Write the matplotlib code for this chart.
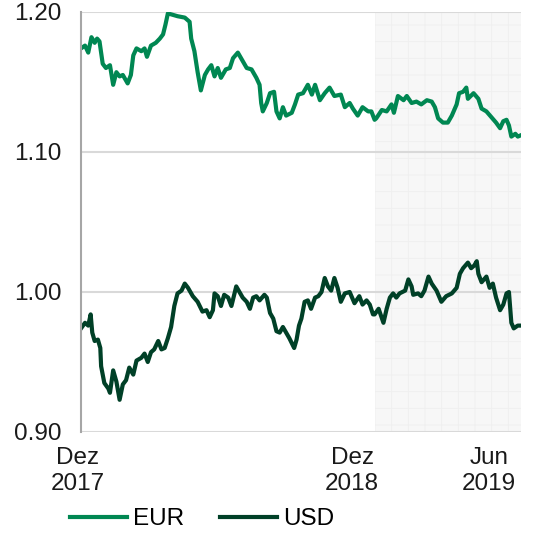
import matplotlib
matplotlib.use("Agg")
import matplotlib.pyplot as plt
import pandas as pd

plt.rcParams["font.family"] = ["Liberation Sans", "DejaVu Sans"]
plt.rcParams["hatch.linewidth"] = 0.6

# ------------------------------------------------------------
# Data, days since 1 Dec 2017
# ------------------------------------------------------------
start = pd.Timestamp("2017-12-01")
end = pd.Timestamp("2019-06-01")
shade_start = pd.Timestamp("2018-12-01")

eur_days = [0, 5, 9, 13, 17, 20, 23, 27, 31, 36,
            40, 44, 48, 52, 58, 62, 65, 69, 75, 79,
            82, 87, 93, 98, 102, 105, 108, 114, 120, 129,
            135, 137, 141, 145, 149, 154, 158, 162, 166, 170,
            174, 180, 185, 189, 195, 200, 206, 212, 218, 222,
            224, 226, 231, 235, 240, 243, 247, 251, 255, 262,
            266, 270, 276, 282, 287, 291, 297, 303, 309, 315,
            323, 328, 334, 338, 344, 350, 357, 361, 365, 367,
            374, 380, 386, 389, 394, 401, 405, 411, 417, 423,
            430, 436, 440, 444, 450, 456, 461, 467, 470, 475,
            479, 481, 488, 494, 498, 504, 510, 516, 521, 525,
            529, 532, 535, 540, 543, 547]
eur_vals = [1.174, 1.176, 1.171, 1.182, 1.178, 1.181, 1.179, 1.163, 1.160, 1.162,
            1.148, 1.157, 1.154, 1.155, 1.149, 1.155, 1.169, 1.174, 1.172, 1.174,
            1.168, 1.176, 1.178, 1.181, 1.184, 1.191, 1.199, 1.198, 1.197, 1.196,
            1.193, 1.181, 1.172, 1.157, 1.144, 1.155, 1.159, 1.162, 1.154, 1.160,
            1.153, 1.159, 1.160, 1.167, 1.171, 1.166, 1.160, 1.159, 1.153, 1.148,
            1.135, 1.129, 1.135, 1.142, 1.143, 1.129, 1.124, 1.132, 1.126, 1.128,
            1.134, 1.141, 1.142, 1.148, 1.141, 1.148, 1.137, 1.142, 1.146, 1.140,
            1.141, 1.132, 1.135, 1.131, 1.126, 1.132, 1.129, 1.129, 1.123, 1.124,
            1.130, 1.129, 1.134, 1.128, 1.140, 1.137, 1.140, 1.135, 1.136, 1.134,
            1.137, 1.136, 1.132, 1.124, 1.121, 1.121, 1.126, 1.134, 1.142, 1.143,
            1.146, 1.138, 1.142, 1.138, 1.131, 1.129, 1.125, 1.121, 1.117, 1.122,
            1.123, 1.119, 1.111, 1.113, 1.111, 1.112]

usd_days = [0, 5, 9, 12, 14, 17, 21, 24, 25, 29,
            34, 36, 40, 44, 48, 52, 56, 60, 65, 69,
            75, 79, 83, 87, 91, 96, 100, 104, 108, 112,
            116, 120, 125, 129, 133, 139, 145, 151, 156, 160,
            164, 166, 170, 174, 178, 183, 187, 193, 197, 201,
            206, 210, 214, 218, 222, 228, 231, 235, 239, 243,
            247, 251, 255, 259, 265, 268, 271, 274, 278, 282,
            286, 291, 295, 299, 303, 307, 311, 315, 319, 323,
            328, 334, 340, 346, 350, 355, 359, 363, 365, 370,
            376, 380, 384, 388, 392, 396, 403, 407, 411, 413,
            419, 423, 427, 432, 436, 442, 448, 454, 461, 467,
            471, 475, 481, 485, 489, 492, 494, 498, 504, 508,
            512, 516, 521, 525, 529, 532, 535, 538, 543, 547]
usd_vals = [0.974, 0.978, 0.976, 0.984, 0.971, 0.965, 0.966, 0.960, 0.947, 0.935,
            0.931, 0.928, 0.944, 0.936, 0.923, 0.934, 0.937, 0.946, 0.941, 0.951,
            0.953, 0.956, 0.950, 0.957, 0.959, 0.965, 0.959, 0.960, 0.967, 0.975,
            0.990, 0.999, 1.001, 1.006, 1.003, 0.997, 0.993, 0.986, 0.987, 0.982,
            0.987, 0.999, 0.997, 0.990, 0.998, 0.996, 0.990, 1.004, 1.000, 0.996,
            0.993, 0.988, 0.996, 0.997, 0.994, 0.998, 0.996, 0.985, 0.981, 0.972,
            0.971, 0.975, 0.971, 0.967, 0.960, 0.966, 0.976, 0.981, 0.993, 0.994,
            0.988, 0.996, 0.997, 1.000, 1.010, 1.004, 1.001, 1.010, 1.003, 0.993,
            0.999, 1.000, 0.992, 0.997, 0.991, 0.994, 0.991, 0.984, 0.984, 0.988,
            0.978, 0.988, 0.996, 0.999, 0.996, 0.999, 1.001, 1.009, 1.004, 0.998,
            0.999, 0.997, 1.001, 1.011, 1.006, 1.001, 0.993, 0.997, 0.999, 1.003,
            1.013, 1.017, 1.021, 1.017, 1.019, 1.022, 1.013, 1.007, 1.011, 1.003,
            1.006, 0.996, 0.987, 0.991, 0.999, 1.000, 0.978, 0.974, 0.976, 0.976]

y_ticks = [0.90, 1.00, 1.10, 1.20]
y_labels = ["0.90", "1.00", "1.10", "1.20"]
x_label_dates = ["2017-11-27", "2018-11-03", "2019-04-22"]
x_labels = ["Dez\n2017", "Dez\n2018", "Jun\n2019"]

eur_dates = start + pd.to_timedelta(eur_days, unit="D")
usd_dates = start + pd.to_timedelta(usd_days, unit="D")

EUR_COLOR = "#008752"
USD_COLOR = "#004027"
FS = 17.5

# ------------------------------------------------------------
# Figure
# ------------------------------------------------------------
fig = plt.figure(figsize=(5.54, 5.44), dpi=100)
ax = fig.add_axes([81 / 554, 1 - 432 / 544, 440 / 554, 420 / 544])

# forecast-period shading
ax.axvspan(shade_start, end, facecolor="#f7f7f7", edgecolor="#efefef",
           hatch="+", linewidth=0, zorder=0)

ax.plot(eur_dates, eur_vals, color=EUR_COLOR, lw=3, label="EUR",
        solid_joinstyle="round", zorder=3)
ax.plot(usd_dates, usd_vals, color=USD_COLOR, lw=3, label="USD",
        solid_joinstyle="round", zorder=3)

ax.set_xlim(start, end)
ax.set_ylim(0.90, 1.20)
ax.set_yticks(y_ticks)
ax.set_yticklabels(y_labels)
ax.set_xticks([])
ax.tick_params(axis="y", length=0, pad=14, labelsize=FS, colors="#1a1a1a")
ax.yaxis.grid(True, color="#d9d9d9", lw=1.5)
ax.set_axisbelow(True)

for side in ["top", "right", "bottom"]:
    ax.spines[side].set_visible(False)
ax.spines["left"].set_color("#a6a6a6")
ax.spines["left"].set_linewidth(1.5)
ax.spines["left"].set_zorder(4)

for d, lab in zip(x_label_dates, x_labels):
    ax.text(pd.Timestamp(d), -0.036, lab, transform=ax.get_xaxis_transform(),
            ha="center", va="top", fontsize=FS, color="#1a1a1a",
            linespacing=1.25, clip_on=False)

fig.legend(loc="center", bbox_to_anchor=(202 / 554, 1 - 519 / 544), ncol=2,
           frameon=False, fontsize=FS, handlelength=2.35, handletextpad=0.25,
           columnspacing=1.45, borderpad=0)

fig.savefig("out.png", dpi=100)
